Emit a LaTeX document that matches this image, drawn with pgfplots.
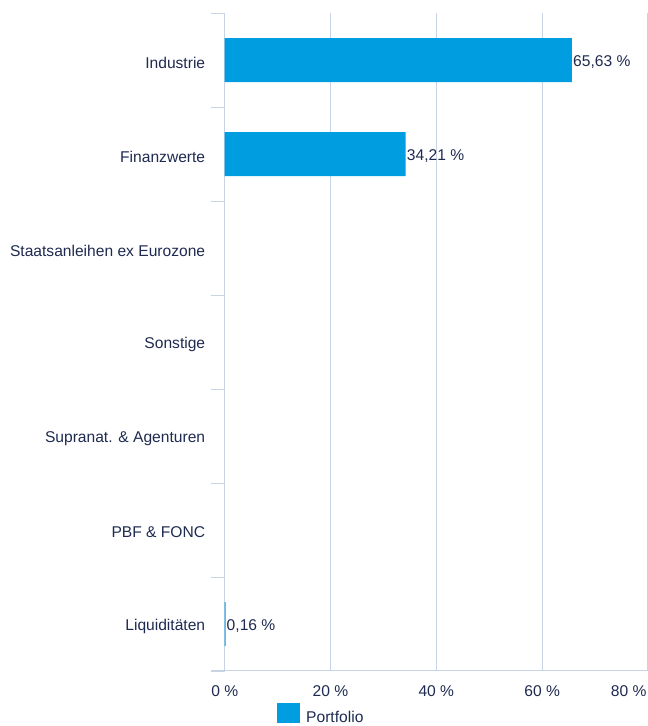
\documentclass[border=0pt]{standalone}
\usepackage{fontspec}
\setmainfont{Liberation Sans}
\usepackage{pgfplots}
\pgfplotsset{compat=1.18}
\definecolor{barblue}{RGB}{0,158,224}
\definecolor{gridc}{RGB}{200,211,228}
\definecolor{navy}{RGB}{30,42,80}
\begin{document}
\begin{tikzpicture}[font=\fontsize{15.6}{18}\selectfont]
\useasboundingbox (-224.7pt,-55pt) rectangle (423.3pt,671pt);
\begin{axis}[
  at={(0,0)}, anchor=south west, scale only axis,
  width=423.3pt, height=658pt,
  xmin=0, xmax=80, ymin=-0.5, ymax=6.5, y dir=reverse,
  axis line style={draw=none},
  clip=false,
  xbar, bar width=44pt,
  xtick={0,20,40,60}, xticklabels={0 \%,20 \%,40 \%,60 \%},
  extra x ticks={80}, extra x tick labels={80 \%},
  extra x tick style={grid=major, xticklabel style={anchor=north east, xshift=2pt}},
  xmajorgrids, grid style={gridc, line width=1pt},
  major tick length=0pt,
  ytick={0,...,6},
  yticklabels={Industrie, Finanzwerte, Staatsanleihen ex Eurozone, Sonstige, Supranat. \& Agenturen, PBF \& FONC, Liquiditäten},
  minor ytick={-0.5,0.5,...,6.5},
  minor tick length=13.7pt, tick align=outside,
  minor tick style={gridc, line width=1pt},
  yticklabel style={text=navy, xshift=-16pt, yshift=-2.5pt},
  xticklabel style={text=navy, yshift=-11pt},
  nodes near coords, point meta=explicit symbolic,
  nodes near coords style={anchor=west, inner sep=1pt, text=navy, yshift=-2pt},
  legend style={at={(0.1236,-0.066)}, anchor=west, draw=none, fill=none, inner sep=0pt, text=navy,
    font=\fontsize{15.6}{18}\selectfont},
  legend image code/.code={\fill[barblue] (0pt,-6pt) rectangle (23pt,14pt); \path (27pt,0pt);},
]
\addplot[fill=barblue, draw=none] coordinates {
  (65.63,0) [65,63 \%]
  (34.21,1) [34,21 \%]
  (0.16,6) [0,16 \%]
};
\addlegendentry{Portfolio}
\end{axis}
\draw[gridc, line width=1pt] (-13.7pt,0) -- (423.3pt,0);
\end{tikzpicture}
\end{document}
